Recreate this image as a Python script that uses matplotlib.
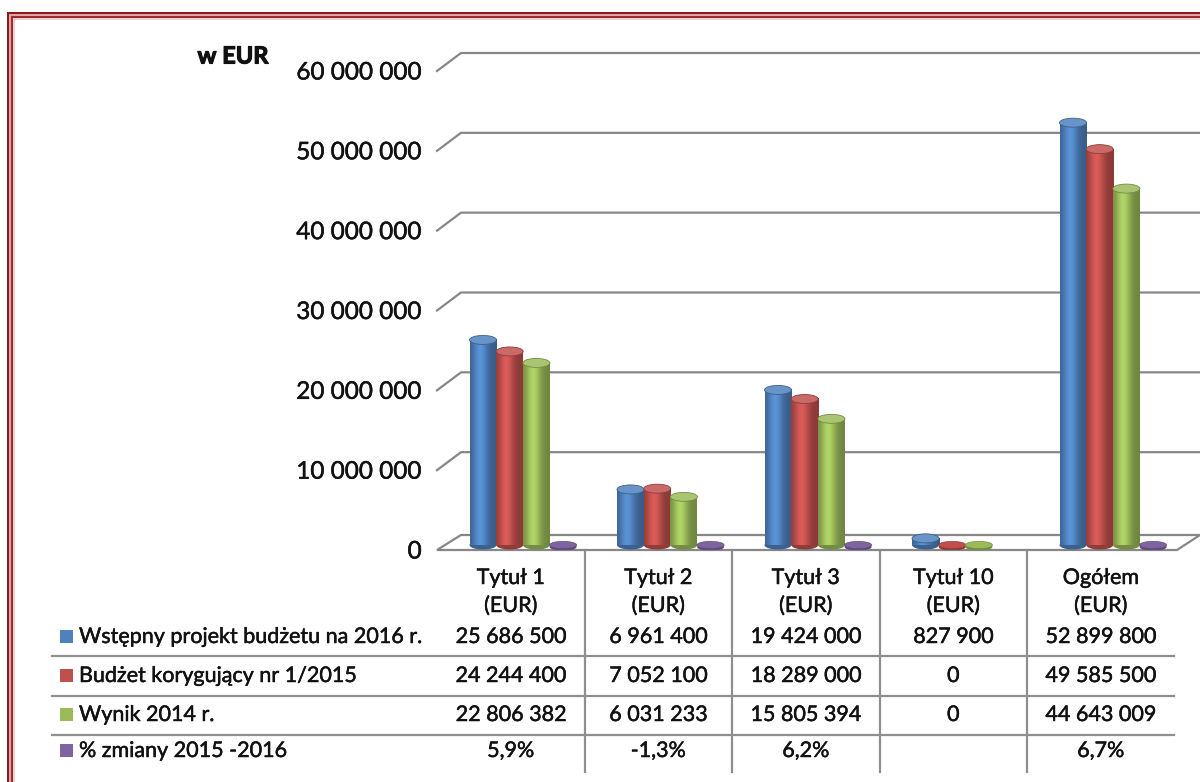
import numpy as np
import matplotlib.pyplot as plt
import matplotlib.patheffects as pe
from matplotlib.patches import Ellipse, Polygon, Rectangle
from matplotlib.lines import Line2D
from matplotlib.colors import to_rgb
from matplotlib.transforms import blended_transform_factory

plt.rcParams['font.family'] = ['Lato', 'DejaVu Sans']
plt.rcParams['text.color'] = '#111111'
plt.rcParams['ytick.color'] = '#111111'

# data
categories = ["Tytuł 1", "Tytuł 2", "Tytuł 3", "Tytuł 10", "Ogółem"]
series_names = ["Wstępny projekt budżetu na 2016 r.", "Budżet korygujący nr 1/2015",
                "Wynik 2014 r.", "% zmiany 2015 -2016"]
draft_2016 = [25686500, 6961400, 19424000, 827900, 52899800]
amending_2015 = [24244400, 7052100, 18289000, 0, 49585500]
result_2014 = [22806382, 6031233, 15805394, 0, 44643009]
change_pct = [5.9, -1.3, 6.2, None, 6.7]
colors = ["#4F81BD", "#C0504D", "#9BBB59", "#8064A2"]
y_ticks = [0, 10000000, 20000000, 30000000, 40000000, 50000000, 60000000]

W, H = 1200, 782
def fx(px):
    return px / W
def fy(py):
    return 1 - py / H

# slightly heavier text, like the original rendering
heavy = [pe.withStroke(linewidth=0.35, foreground='#111111')]

fig = plt.figure(figsize=(12, 7.82), dpi=100)
ax = fig.add_axes([fx(437), fy(550), (1200 - 437) / W, (550 - 71) / H])
col_px = 147.5
ux = 1 / col_px              # data x per pixel
uy = 60e6 / 479              # data y per pixel
xmin, xmax = -0.5, -0.5 + 763 / col_px

grid_col = "#878787"
# gridlines with a little depth
for v in y_ticks[1:]:
    ax.plot([xmin, xmin + 24 * ux, xmax], [v, v + 18 * uy, v + 18 * uy],
            color=grid_col, lw=1.6, clip_on=False, zorder=1)

# floor
floor = Polygon([(xmin, 0), (xmin + 740 * ux, 0), (xmax, 15 * uy), (xmin + 24 * ux, 15 * uy)],
                closed=True, fc="white", ec=grid_col, lw=1.6, zorder=1.5, clip_on=False)
ax.add_patch(floor)

bw = 27 * ux
base = 5 * uy
ell_h = 9 * uy

def cylinder(xc, h, color, z):
    rgb = np.array(to_rgb(color))
    t = np.linspace(0, 1, 64)
    shade = 0.72 + 0.42 * np.exp(-((t - 0.38) / 0.28) ** 2)
    img = np.clip(rgb[None, :] * shade[:, None], 0, 1)[None, :, :]
    dark = rgb * 0.75
    light = np.clip(rgb * 0.85 + 0.15, 0, 1)
    if h < 3 * uy:
        ax.add_patch(Ellipse((xc, base - 2 * uy), bw, ell_h * 0.8, fc=dark, ec="none", zorder=z))
        ax.add_patch(Ellipse((xc, base + max(h, 0)), bw, ell_h * 0.8, fc=rgb, ec=dark, lw=0.5, zorder=z + 0.2))
        if h <= 0:
            return
    ax.add_patch(Ellipse((xc, base), bw, ell_h, fc=dark, ec="none", zorder=z))
    ax.imshow(img, extent=[xc - bw / 2, xc + bw / 2, base, base + h], aspect='auto',
              interpolation='bilinear', origin='lower', zorder=z + 0.1)
    ax.add_patch(Ellipse((xc, base + h), bw, ell_h, fc=light, ec=dark, lw=0.6, zorder=z + 0.2))

series_vals = [draft_2016, amending_2015, result_2014, change_pct]
for i in range(len(categories)):
    for j, vals in enumerate(series_vals):
        v = vals[i]
        if v is None:
            continue
        xc = i - 0.5 + (46 + j * 26.7) * ux
        h = v if j < 3 else 0
        cylinder(xc, h, colors[j], 3 + j * 0.01)

ax.set_xlim(xmin, xmax)
ax.set_ylim(0, 60e6)
ax.set_xticks([])
ax.set_yticks(y_ticks)
ax.set_yticklabels([f"{int(v):,}".replace(",", " ") for v in y_ticks])
ax.tick_params(axis='y', length=0, pad=11, labelsize=17.5)
for lab in ax.get_yticklabels():
    lab.set_path_effects(heavy)
for s in ax.spines.values():
    s.set_visible(False)
ax.patch.set_alpha(0)

fig.text(fx(233), fy(56), "w EUR", fontweight='bold', fontsize=17, ha='center', va='center',
         path_effects=[pe.withStroke(linewidth=0.8, foreground='#111111')])

# data table
fs = 15.5
trans = blended_transform_factory(ax.transData, fig.transFigure)
for i, c in enumerate(categories):
    ax.text(i, fy(578), c, ha='center', va='center', fontsize=fs, transform=trans, path_effects=heavy)
    ax.text(i, fy(606), "(EUR)", ha='center', va='center', fontsize=fs, transform=trans, path_effects=heavy)

row_y = [637, 676, 715, 751]
for r, vals in enumerate(series_vals):
    fig.add_artist(Rectangle((fx(60), fy(row_y[r] + 6)), 13 / W, 13 / H,
                             fc=colors[r], ec="none", transform=fig.transFigure))
    fig.text(fx(79), fy(row_y[r]), series_names[r], fontsize=fs, ha='left', va='center',
             path_effects=heavy)
    for i, v in enumerate(vals):
        if v is None:
            continue
        if r < 3:
            s = f"{v:,}".replace(",", " ")
        else:
            s = f"{v:.1f}%".replace(".", ",")
        ax.text(i, fy(row_y[r]), s, ha='center', va='center', fontsize=fs, transform=trans,
                path_effects=heavy)

tab_col = "#8f8f8f"
for yl in [656, 696, 735]:
    fig.add_artist(Line2D([fx(52), fx(1174)], [fy(yl), fy(yl)], color=tab_col, lw=1.6,
                          transform=fig.transFigure))
for b in range(1, len(categories)):
    ax.plot([b - 0.5, b - 0.5], [fy(552), fy(772)], color=tab_col, lw=1.6,
            transform=trans, clip_on=False)

# frame
for off, lw, col in [(7.5, 3, "#8B1A1A"), (10, 2, "#DBA5A5"), (12, 2, "#9E2A2A"), (14, 1.5, "#E6C2C2")]:
    fig.add_artist(Rectangle((fx(off), fy(H + 30)), (W + 30) / W, (H + 30 - off - 5) / H,
                             fill=False, ec=col, lw=lw * 0.72, transform=fig.transFigure))

fig.savefig("out.png", dpi=100)
